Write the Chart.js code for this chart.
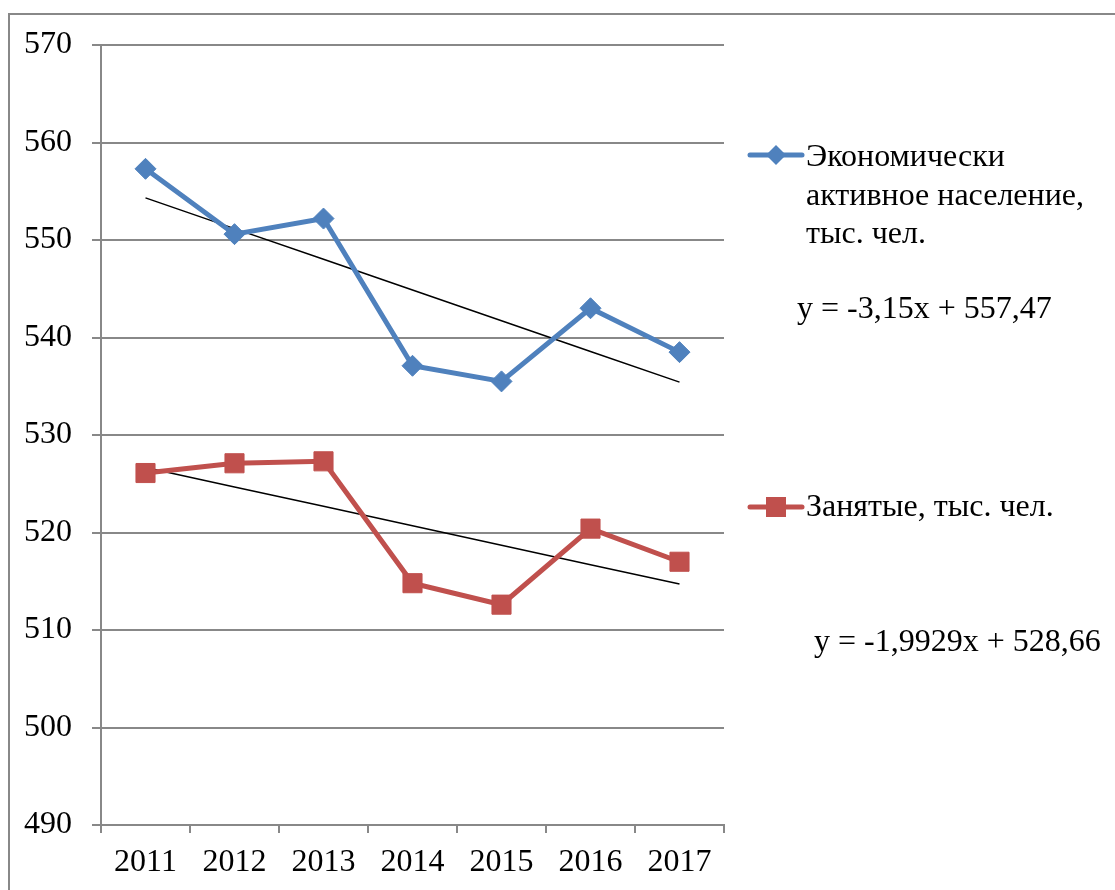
<!DOCTYPE html>
<html lang="ru">
<head>
<meta charset="utf-8">
<title>Экономически активное население и занятые</title>
<script src="https://cdn.jsdelivr.net/npm/chart.js@4.4.1/dist/chart.umd.min.js"></script>
<style>
  html, body { margin: 0; padding: 0; background: #fff; overflow: hidden; }
  canvas { display: block; }
</style>
</head>
<body>
<canvas id="myChart" width="1115" height="890"></canvas>
<script>
  // years and values, тыс. чел.
  const years      = ['2011', '2012', '2013', '2014', '2015', '2016', '2017'];
  const activePop  = [557.3, 550.6, 552.2, 537.1, 535.5, 543.0, 538.5];
  const employed   = [526.1, 527.1, 527.3, 514.8, 512.6, 520.4, 517.0];

  // linear trends as printed next to the legend
  const activeTrend   = { slope: -3.15,   intercept: 557.47 };
  const employedTrend = { slope: -1.9929, intercept: 528.66 };
  const activeEq   = 'y = -3,15x + 557,47';
  const employedEq = 'y = -1,9929x + 528,66';

  const activeLabel   = ['Экономически', 'активное население,', 'тыс. чел.'];
  const employedLabel = ['Занятые, тыс. чел.'];

  const blue  = '#4f81bd';
  const red   = '#c0504d';
  const gray  = '#888888';
  const font  = '"Liberation Serif", "Times New Roman", serif';
  const fontSize = 32;

  const trendPoints = (t) => years.map((_, i) => t.slope * (i + 1) + t.intercept);

  // legend entries, equations and the outer frame
  const sideLegend = {
    id: 'sideLegend',
    beforeDraw(chart) {
      const c = chart.ctx;
      c.save();
      c.strokeStyle = gray;
      c.lineWidth = 2;
      c.beginPath();
      c.moveTo(9, chart.height);
      c.lineTo(9, 14);
      c.lineTo(chart.width, 14);
      c.stroke();
      c.restore();
    },
    afterDraw(chart) {
      const c = chart.ctx;
      c.save();
      c.font = `${fontSize}px ${font}`;
      c.fillStyle = '#000';
      c.textBaseline = 'middle';
      c.textAlign = 'left';

      const swatch = (y, color, style) => {
        c.strokeStyle = color;
        c.lineWidth = 5;
        c.lineCap = 'round';
        c.beginPath();
        c.moveTo(750, y);
        c.lineTo(802, y);
        c.stroke();
        c.fillStyle = color;
        c.beginPath();
        if (style === 'diamond') {
          c.moveTo(776, y - 10);
          c.lineTo(786, y);
          c.lineTo(776, y + 10);
          c.lineTo(766, y);
        } else {
          c.rect(766, y - 10, 20, 20);
        }
        c.closePath();
        c.fill();
        c.fillStyle = '#000';
      };

      swatch(155, blue, 'diamond');
      activeLabel.forEach((t, i) => c.fillText(t, 806, 158 + i * 38.5));
      c.fillText(activeEq, 797, 310);

      swatch(507, red, 'square');
      employedLabel.forEach((t, i) => c.fillText(t, 806, 508 + i * 38.5));
      c.fillText(employedEq, 814, 643);
      c.restore();
    }
  };

  const ctx = document.getElementById('myChart');
  new Chart(ctx, {
    type: 'line',
    data: {
      labels: years,
      datasets: [
        {
          label: activeLabel.join(' '),
          data: activePop,
          borderColor: blue,
          backgroundColor: blue,
          borderWidth: 5,
          pointStyle: 'rectRot',
          pointRadius: 10.5,
          pointBorderWidth: 1,
          tension: 0
        },
        {
          label: employedLabel[0],
          data: employed,
          borderColor: red,
          backgroundColor: red,
          borderWidth: 5,
          pointStyle: 'rect',
          pointRadius: 13.5,
          pointBorderWidth: 1,
          tension: 0
        },
        {
          label: 'trend 1',
          data: trendPoints(activeTrend),
          borderColor: '#000',
          borderWidth: 1.5,
          pointRadius: 0
        },
        {
          label: 'trend 2',
          data: trendPoints(employedTrend),
          borderColor: '#000',
          borderWidth: 1.5,
          pointRadius: 0
        }
      ]
    },
    options: {
      responsive: false,
      animation: false,
      devicePixelRatio: 1,
      layout: { padding: { left: 0, top: 45, right: 391, bottom: 0 } },
      plugins: {
        legend: { display: false },
        tooltip: { enabled: false }
      },
      scales: {
        x: {
          offset: true,
          grid: {
            offset: true,
            drawOnChartArea: false,
            drawTicks: true,
            tickLength: 8,
            color: gray,
            lineWidth: 2
          },
          border: { display: true, color: gray, width: 2 },
          ticks: {
            color: '#000',
            font: { family: font, size: fontSize },
            padding: 10,
            maxRotation: 0,
            autoSkip: false
          },
          afterFit: (scale) => { scale.height = 65; }
        },
        y: {
          min: 490,
          max: 570,
          grid: {
            color: gray,
            lineWidth: 2,
            drawTicks: true,
            tickLength: 9
          },
          border: { display: true, color: gray, width: 2 },
          ticks: {
            stepSize: 10,
            color: '#000',
            font: { family: font, size: fontSize },
            padding: 20
          },
          afterFit: (scale) => { scale.width = 101; }
        }
      }
    },
    plugins: [sideLegend]
  });
</script>
</body>
</html>
